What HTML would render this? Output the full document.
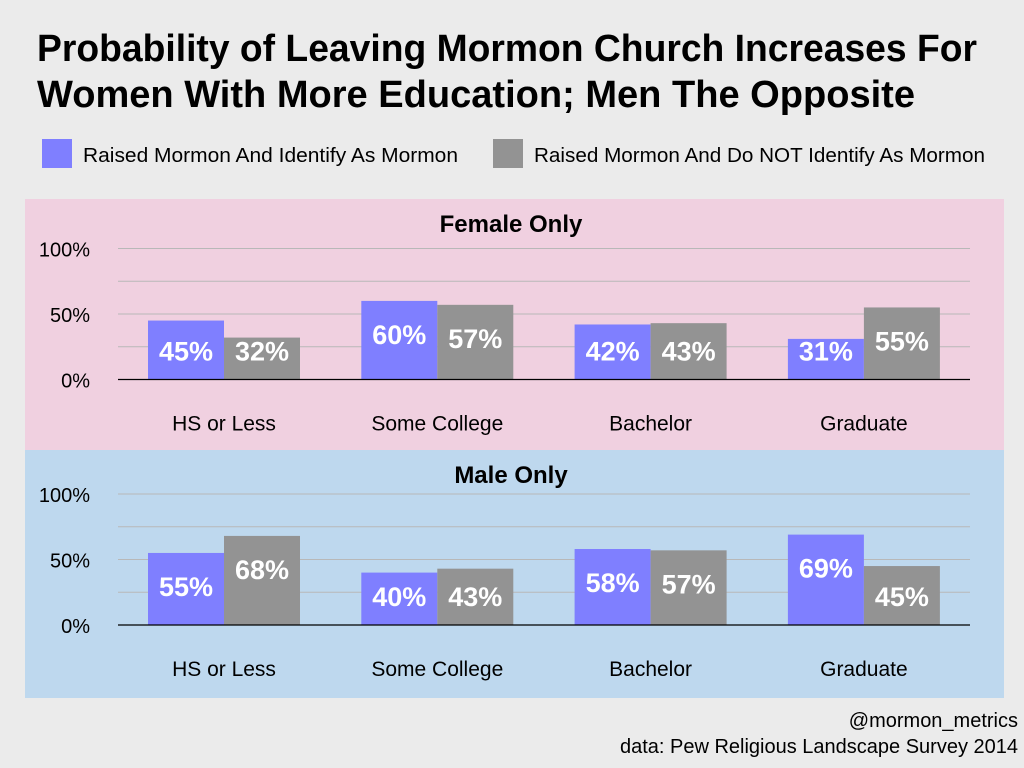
<!DOCTYPE html>
<html><head><meta charset="utf-8"><style>
html,body{margin:0;padding:0;background:#ebebeb}
svg{display:block;font-family:"Liberation Sans Narrow","Liberation Sans",sans-serif}
</style></head><body>
<svg id="chart" width="1024" height="768" viewBox="0 0 1024 768">
<rect width="1024" height="768" fill="#ebebeb"/>
<text x="37" y="61" font-size="38" font-weight="bold" textLength="940" lengthAdjust="spacingAndGlyphs">Probability of Leaving Mormon Church Increases For</text>
<text x="37" y="107" font-size="38" font-weight="bold" textLength="878" lengthAdjust="spacingAndGlyphs">Women With More Education; Men The Opposite</text>
<g>
<rect x="42" y="139" width="30" height="29" fill="#7f7fff"/>
<text x="83" y="162" font-size="20" textLength="375" lengthAdjust="spacingAndGlyphs">Raised Mormon And Identify As Mormon</text>
<rect x="493" y="139" width="30" height="29" fill="#939393"/>
<text x="534" y="162" font-size="20" textLength="451" lengthAdjust="spacingAndGlyphs">Raised Mormon And Do NOT Identify As Mormon</text>
</g>
<g id="panels"></g>
<text x="1018" y="727" font-size="20" text-anchor="end">@mormon_metrics</text>
<text x="1018" y="753" font-size="20" text-anchor="end">data: Pew Religious Landscape Survey 2014</text>
</svg>
<script>
const categories = ["HS or Less","Some College","Bachelor","Graduate"];
const femaleIdentify = [45,60,42,31];
const femaleNotIdentify = [32,57,43,55];
const maleIdentify = [55,40,58,69];
const maleNotIdentify = [68,43,57,45];
const yTicks = [0,50,100];
const tickLabels = ["0%","50%","100%"];

const NS="http://www.w3.org/2000/svg";
const root=document.getElementById('panels');
function mk(tag,attrs,parent){const e=document.createElementNS(NS,tag);for(const k in attrs)e.setAttribute(k,attrs[k]);parent.appendChild(e);return e;}
function panel(key,title,top,bottom,fill,axisY,s1,s2){
  const g=mk('g',{},root);
  
  
  const bg=mk('rect',{x:25,y:top,width:979,height:bottom-top,fill:fill},g);
  
  
  const t=mk('text',{x:511,y:top+33,'font-size':24,'font-weight':'bold','text-anchor':'middle'},g);
  t.textContent=title;
  
  
  const scale=131/100;
  const y=v=>axisY-v*scale;
  for(let v=25;v<=100;v+=25){
    const l=mk('line',{x1:118,x2:970,y1:y(v),y2:y(v),stroke:'#b8b8b8','stroke-width':1},g);
    
    
  }
  yTicks.forEach((v,i)=>{
    const tl=mk('text',{x:90,y:y(v)+8,'font-size':20,'text-anchor':'end'},g);
    tl.textContent=tickLabels[i];
    
    
  });
  const bw=76, x0=224, step=213.3;
  categories.forEach((c,i)=>{
    const cx=x0+i*step;
    [[s1[i],'#7f7fff',cx-bw,'identify'],[s2[i],'#939393',cx,'not-identify']].forEach(([v,col,bx,nm])=>{
      const r=mk('rect',{x:bx,y:y(v),width:bw,height:v*scale,fill:col},g);
      
      
      const cy=Math.min(y(v)+33, axisY-29);
      const lb=mk('text',{x:bx+bw/2,y:cy+10,'font-size':27,'font-weight':'bold',fill:'#fff','text-anchor':'middle'},g);
      lb.textContent=v+'%';
      
      
    });
    const cl=mk('text',{x:cx,y:axisY+51,'font-size':21,'text-anchor':'middle'},g);
    cl.textContent=c;
    
    
  });
  const ax=mk('line',{x1:118,x2:970,y1:axisY,y2:axisY,stroke:'#000','stroke-width':1.3},g);
  
  
}
panel('female','Female Only',199,450,'#f0d0e0',379.5,femaleIdentify,femaleNotIdentify);
panel('male','Male Only',450,698,'#bed8ee',625,maleIdentify,maleNotIdentify);
</script>
</body></html>
